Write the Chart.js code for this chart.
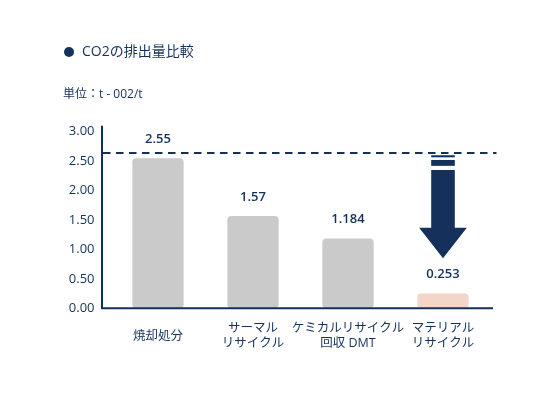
<!DOCTYPE html>
<html lang="ja">
<head>
<meta charset="utf-8">
<script src="https://cdn.jsdelivr.net/npm/chart.js@4"></script>
<style>
  html, body { margin: 0; padding: 0; background: #fff; }
  #wrap { position: relative; width: 560px; height: 400px; font-family: "Open Sans", "Noto Sans CJK JP", sans-serif; color: #15315b; }
  #wrap canvas { position: absolute; left: 0; top: 0; }
  .title { position: absolute; left: 64px; top: 41px; font-size: 14px; line-height: 20px; white-space: nowrap; }
  .title .dot { display: inline-block; width: 10px; height: 10px; border-radius: 50%; background: #15315b; margin-right: 8px; vertical-align: -1px; }
  .unit { position: absolute; left: 63px; top: 86px; font-size: 12px; line-height: 16px; white-space: nowrap; }
</style>
</head>
<body>
<div id="wrap">
  <canvas id="co2-chart" width="560" height="400"></canvas>
  <div class="title"><span class="dot"></span>CO2の排出量比較</div>
  <div class="unit">単位：t - 002/t</div>
</div>
<script>
(function () {
  const categories = [
    "焼却処分",
    ["サーマル", "リサイクル"],
    ["ケミカルリサイクル", "回収 DMT"],
    ["マテリアル", "リサイクル"],
  ];
  const emissions = [2.55, 1.57, 1.184, 0.253];
  const valueLabels = ["2.55", "1.57", "1.184", "0.253"];
  const yTicks = [0, 0.5, 1, 1.5, 2, 2.5, 3];
  const referenceLine = 2.64;
  // arrow pieces over the last bar, in data units (top, bottom)
  const arrowStripes = [[2.6, 2.565], [2.52, 2.42]];
  const arrowShaft = [2.35, 1.37];
  const arrowTip = 0.85;

  const navy = "#15315b";
  const gray = "#cacaca";
  const pink = "#f4d5c7";
  const font = "'Open Sans', 'Noto Sans CJK JP', sans-serif";

  const decorations = {
    id: "decorations",
    beforeDatasetsDraw(chart) {
      const { ctx, chartArea, scales } = chart;
      const yRef = scales.y.getPixelForValue(referenceLine);
      ctx.save();
      ctx.strokeStyle = navy;
      ctx.lineWidth = 2;
      ctx.setLineDash([7.5, 5.5]);
      ctx.beginPath();
      ctx.moveTo(chartArea.left - 7.5, yRef);
      ctx.lineTo(chartArea.right + 6, yRef);
      ctx.stroke();
      ctx.restore();
    },
    afterDatasetsDraw(chart) {
      const { ctx, chartArea, scales } = chart;
      const y = scales.y;
      const bars = chart.getDatasetMeta(0).data;

      // axis lines
      ctx.save();
      ctx.strokeStyle = navy;
      ctx.lineWidth = 2;
      ctx.beginPath();
      ctx.moveTo(chartArea.left - 8.5, chartArea.top - 6);
      ctx.lineTo(chartArea.left - 8.5, chartArea.bottom);
      ctx.lineTo(chartArea.right + 2.5, chartArea.bottom);
      ctx.stroke();

      // value labels
      ctx.fillStyle = navy;
      ctx.font = "600 13px " + font;
      ctx.textAlign = "center";
      ctx.textBaseline = "middle";
      bars.forEach((bar, i) => {
        ctx.fillText(valueLabels[i], bar.x, y.getPixelForValue(emissions[i]) - 19);
      });

      // arrow
      const last = bars[bars.length - 1];
      const half = last.width * 0.23;
      const headHalf = last.width * 0.465;
      ctx.fillStyle = navy;
      arrowStripes.forEach(([top, bottom]) => {
        const t = y.getPixelForValue(top);
        ctx.fillRect(last.x - half, t, half * 2, y.getPixelForValue(bottom) - t);
      });
      const sTop = y.getPixelForValue(arrowShaft[0]);
      const sBot = y.getPixelForValue(arrowShaft[1]);
      const tip = y.getPixelForValue(arrowTip);
      ctx.beginPath();
      ctx.moveTo(last.x - half, sTop);
      ctx.lineTo(last.x + half, sTop);
      ctx.lineTo(last.x + half, sBot);
      ctx.lineTo(last.x + headHalf, sBot);
      ctx.lineTo(last.x, tip);
      ctx.lineTo(last.x - headHalf, sBot);
      ctx.lineTo(last.x - half, sBot);
      ctx.closePath();
      ctx.fill();
      ctx.restore();
    },
  };

  new Chart(document.getElementById("co2-chart"), {
    type: "bar",
    data: {
      labels: categories,
      datasets: [
        {
          label: "CO2排出量",
          data: emissions,
          backgroundColor: [gray, gray, gray, pink],
          borderRadius: 4,
          borderSkipped: false,
          barPercentage: 0.54,
          categoryPercentage: 1,
        },
      ],
    },
    options: {
      responsive: false,
      animation: false,
      layout: {
        padding: { top: 131.7, right: 69.5, left: 0, bottom: 0 },
      },
      scales: {
        x: {
          offset: true,
          grid: { display: false, drawTicks: false },
          border: { display: false },
          ticks: {
            color: navy,
            font: { family: font, size: 12.5, lineHeight: 1.2 },
            padding: 20.5,
            maxRotation: 0,
            autoSkip: false,
            crossAlign: "center",
          },
          afterFit(scale) {
            scale.height = 91.7;
          },
        },
        y: {
          min: 0,
          max: 3,
          grid: { display: false, drawTicks: false },
          border: { display: false },
          afterBuildTicks(scale) {
            scale.ticks = yTicks.map((v) => ({ value: v }));
          },
          ticks: {
            color: navy,
            font: { family: font, size: 13 },
            padding: 16,
            callback: (v) => Number(v).toFixed(2),
          },
          afterFit(scale) {
            scale.width = 110.5;
          },
        },
      },
      plugins: {
        legend: { display: false },
        tooltip: { enabled: false },
      },
    },
    plugins: [decorations],
  });
})();
</script>
</body>
</html>
